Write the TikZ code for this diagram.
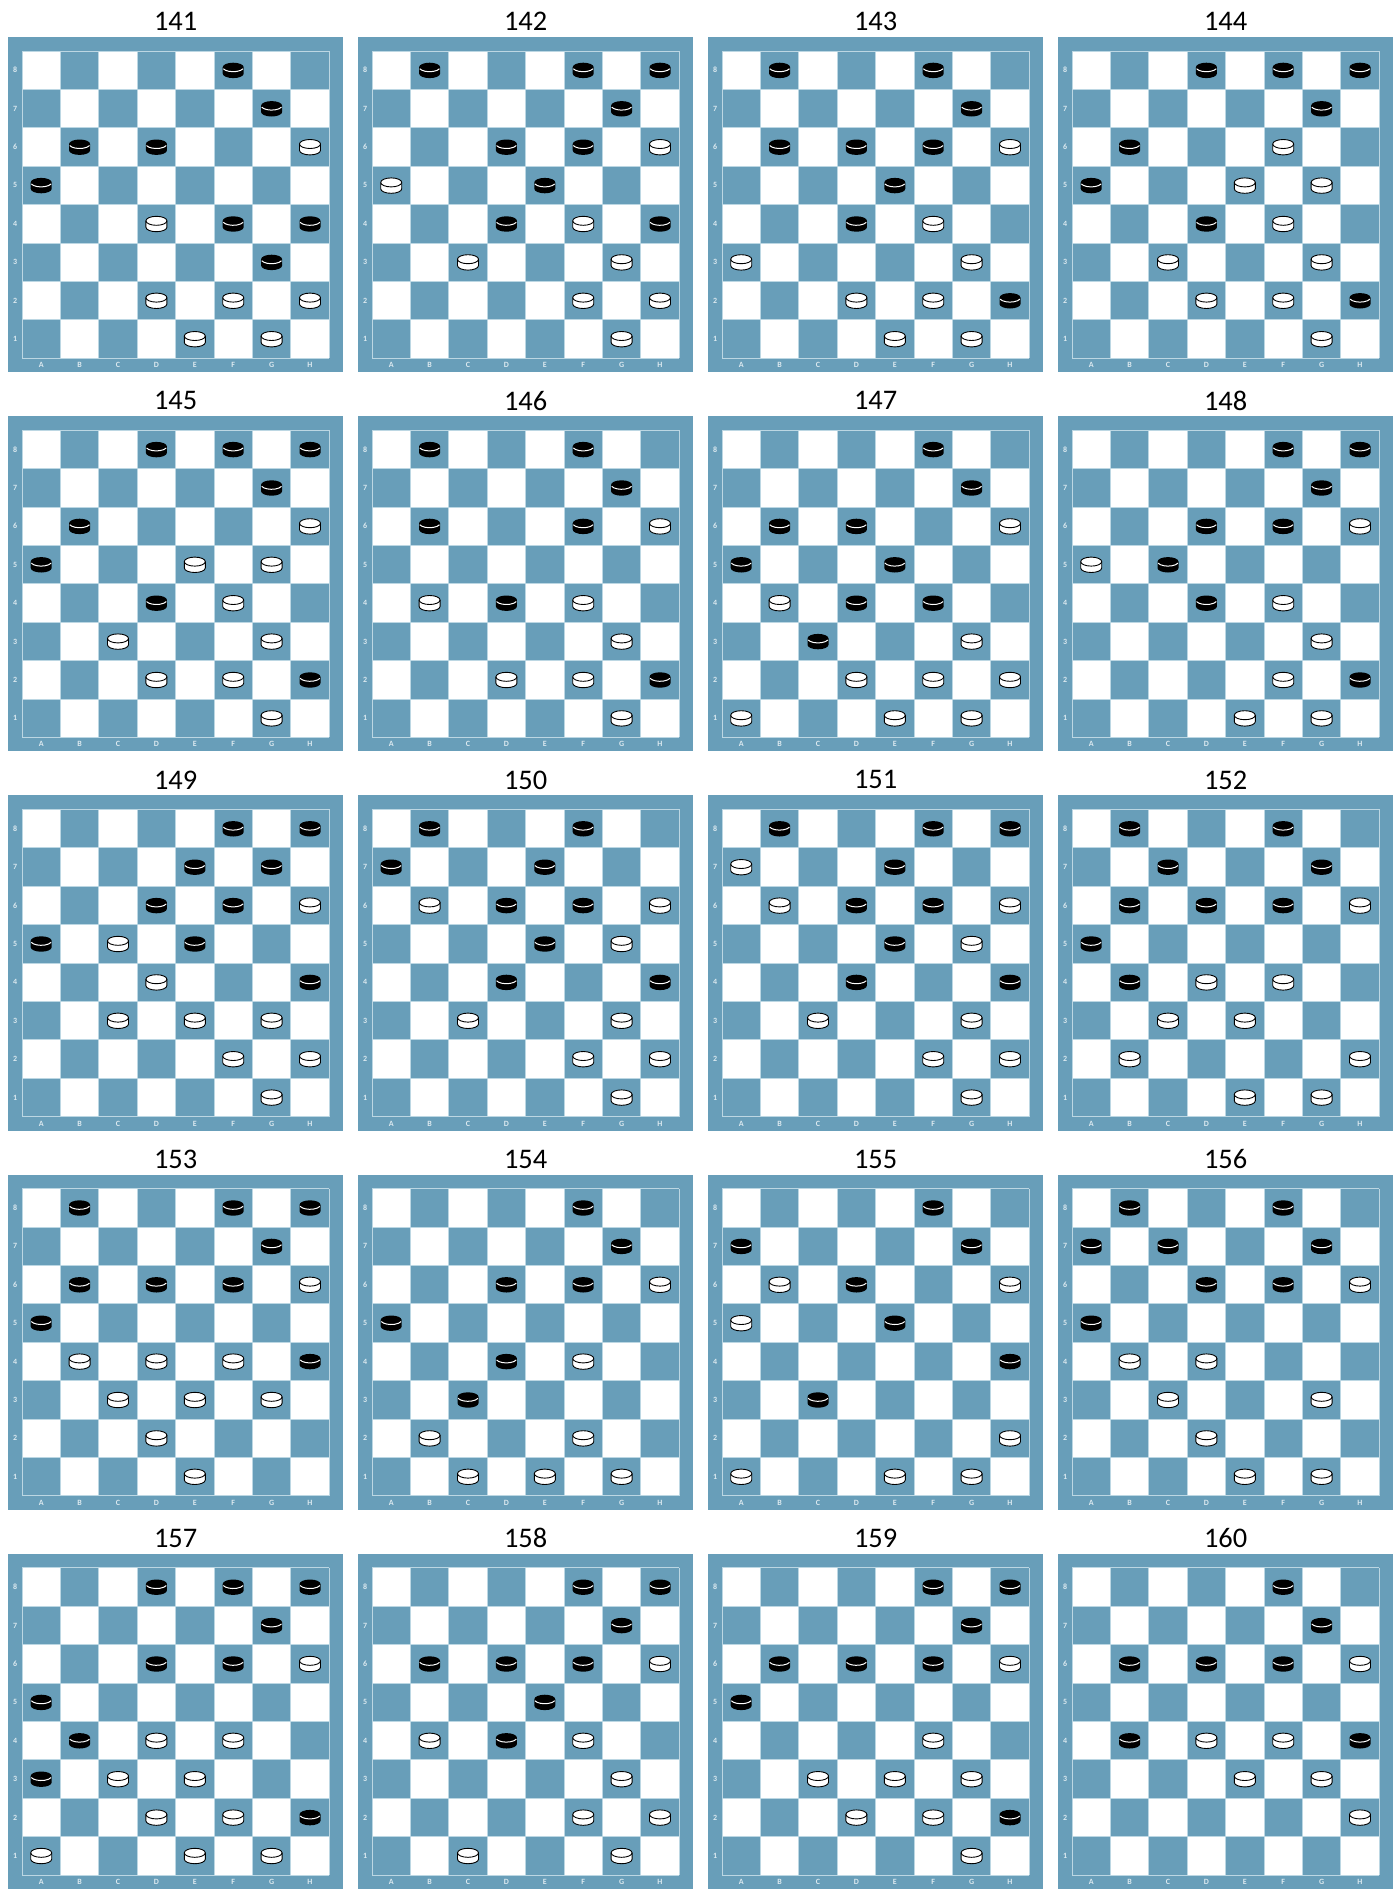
\documentclass[tikz,border=0pt]{standalone}
\usepackage{fontspec}
\setmainfont{Carlito}
\definecolor{brettblau}{HTML}{689EB9}
\definecolor{linie}{HTML}{BCD7E3}
\definecolor{beschrift}{HTML}{DDEAF0}

\tikzset{
  rahmen/.style={fill=brettblau},
  gitter/.style={draw=linie, line width=0.5pt},
  koord/.style={text=beschrift, font=\fontsize{4}{4}\selectfont\bfseries, inner sep=0pt},
  titel/.style={font=\fontsize{14.2}{16}\selectfont, inner sep=0pt},
  schwarz/.pic={
    \fill[black] (-5.25pt,1.5pt) arc[start angle=180, end angle=0, x radius=5.25pt, y radius=2.25pt]
      -- (5.25pt,-1.7pt) arc[start angle=0, end angle=-180, x radius=5.25pt, y radius=2.25pt] -- cycle;
    \draw[white, line width=0.5pt] (-4.93pt,0.73pt) arc[start angle=200, end angle=340, x radius=5.25pt, y radius=2.25pt];
  },
  weiss/.pic={
    \filldraw[fill=white, draw=black, line width=0.45pt] (-5.25pt,1.5pt) arc[start angle=180, end angle=0, x radius=5.25pt, y radius=2.25pt]
      -- (5.25pt,-1.7pt) arc[start angle=0, end angle=-180, x radius=5.25pt, y radius=2.25pt] -- cycle;
    \draw[black, line width=0.45pt] (-5.25pt,1.5pt) arc[start angle=180, end angle=360, x radius=5.25pt, y radius=2.25pt];
  }
}

% #1 Spalte, #2 Zeile, #3 Nummer, #4 schwarze Steine, #5 weisse Steine
\newcommand{\brett}[5]{%
  \begin{scope}[shift={(8+350*#1,-37-379.2*#2)}]
    \fill[rahmen] (0,0) rectangle (335.2,-335.2);
    \node[titel] (titel#3) at (167.6,15.5) {#3};
    \begin{scope}[shift={(14,-321.2)}]
    \begin{scope}[x=19.2pt, y=19.2pt]
      \foreach \sx in {1,...,8}
        \foreach \sy in {1,...,8} {
          \pgfmathtruncatemacro\hell{mod(\sx+\sy,2)}
          \ifnum\hell=1 \fill[white] (\sx-1,\sy-1) rectangle (\sx,\sy); \fi
        }
      \foreach \k in {0,...,8} {
        \draw[gitter] (\k,0) -- (\k,8);
        \draw[gitter] (0,\k) -- (8,\k);
      }
      \foreach \sy in {1,...,8}
        \node[koord] (zeile#3-\sy) at (-0.18,\sy-0.5) {\sy};
      \foreach \sx/\bu in {1/A,2/B,3/C,4/D,5/E,6/F,7/G,8/H}
        \node[koord] (spalte#3-\sx) at (\sx-0.5,-0.18) {\bu};
      \foreach \sx/\sy in {#4}
        \pic at (\sx-0.5,\sy-0.5) {schwarz};
      \foreach \sx/\sy in {#5}
        \pic at (\sx-0.5,\sy-0.5) {weiss};
    \end{scope}
    \end{scope}
  \end{scope}}

\begin{document}
\begin{tikzpicture}[x=0.5pt, y=0.5pt]
  \useasboundingbox (0,0) rectangle (1400,-1890);
  \fill[white] (0,0) rectangle (1400,-1890);

  \brett{0}{0}{141}{6/8,7/7,2/6,4/6,1/5,6/4,8/4,7/3}{8/6,4/4,4/2,6/2,8/2,5/1,7/1}
  \brett{1}{0}{142}{2/8,6/8,8/8,7/7,4/6,6/6,5/5,4/4,8/4}{8/6,1/5,6/4,3/3,7/3,6/2,8/2,7/1}
  \brett{2}{0}{143}{2/8,6/8,7/7,2/6,4/6,6/6,5/5,4/4,8/2}{8/6,6/4,1/3,7/3,4/2,6/2,5/1,7/1}
  \brett{3}{0}{144}{4/8,6/8,8/8,7/7,2/6,1/5,4/4,8/2}{6/6,5/5,7/5,6/4,3/3,7/3,4/2,6/2,7/1}

  \brett{0}{1}{145}{4/8,6/8,8/8,7/7,2/6,1/5,4/4,8/2}{8/6,5/5,7/5,6/4,3/3,7/3,4/2,6/2,7/1}
  \brett{1}{1}{146}{2/8,6/8,7/7,2/6,6/6,4/4,8/2}{8/6,2/4,6/4,7/3,4/2,6/2,7/1}
  \brett{2}{1}{147}{6/8,7/7,2/6,4/6,1/5,5/5,4/4,6/4,3/3}{8/6,2/4,7/3,4/2,6/2,8/2,1/1,5/1,7/1}
  \brett{3}{1}{148}{6/8,8/8,7/7,4/6,6/6,3/5,4/4,8/2}{8/6,1/5,6/4,7/3,6/2,5/1,7/1}

  \brett{0}{2}{149}{6/8,8/8,5/7,7/7,4/6,6/6,1/5,5/5,8/4}{8/6,3/5,4/4,3/3,5/3,7/3,6/2,8/2,7/1}
  \brett{1}{2}{150}{2/8,6/8,1/7,5/7,4/6,6/6,5/5,4/4,8/4}{2/6,8/6,7/5,3/3,7/3,6/2,8/2,7/1}
  \brett{2}{2}{151}{2/8,6/8,8/8,5/7,4/6,6/6,5/5,4/4,8/4}{1/7,2/6,8/6,7/5,3/3,7/3,6/2,8/2,7/1}
  \brett{3}{2}{152}{2/8,6/8,3/7,7/7,2/6,4/6,6/6,1/5,2/4}{8/6,4/4,6/4,3/3,5/3,2/2,8/2,5/1,7/1}

  \brett{0}{3}{153}{2/8,6/8,8/8,7/7,2/6,4/6,6/6,1/5,8/4}{8/6,2/4,4/4,6/4,3/3,5/3,7/3,4/2,5/1}
  \brett{1}{3}{154}{6/8,7/7,4/6,6/6,1/5,4/4,3/3}{8/6,6/4,2/2,6/2,3/1,5/1,7/1}
  \brett{2}{3}{155}{6/8,1/7,7/7,4/6,5/5,8/4,3/3}{2/6,8/6,1/5,8/2,1/1,5/1,7/1}
  \brett{3}{3}{156}{2/8,6/8,1/7,3/7,7/7,4/6,6/6,1/5}{8/6,2/4,4/4,3/3,7/3,4/2,5/1,7/1}

  \brett{0}{4}{157}{4/8,6/8,8/8,7/7,4/6,6/6,1/5,2/4,1/3,8/2}{8/6,4/4,6/4,3/3,5/3,4/2,6/2,1/1,5/1,7/1}
  \brett{1}{4}{158}{6/8,8/8,7/7,2/6,4/6,6/6,5/5,4/4}{8/6,2/4,6/4,7/3,6/2,8/2,3/1,7/1}
  \brett{2}{4}{159}{6/8,8/8,7/7,2/6,4/6,6/6,1/5,8/2}{8/6,6/4,3/3,5/3,7/3,4/2,6/2,7/1}
  \brett{3}{4}{160}{6/8,7/7,2/6,4/6,6/6,2/4,8/4}{8/6,4/4,6/4,5/3,7/3,8/2}
\end{tikzpicture}
\end{document}
